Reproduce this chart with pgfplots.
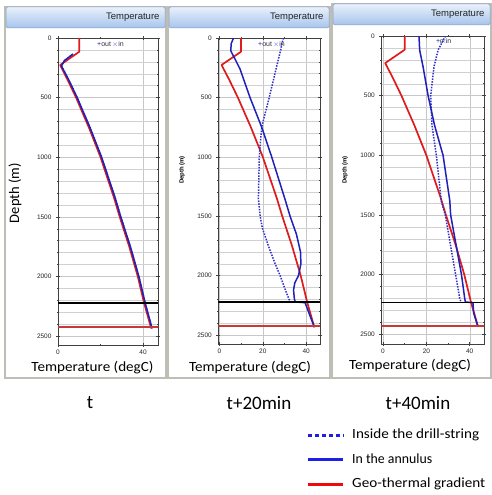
\documentclass[border=0pt]{standalone}
\usepackage{fontspec}
\setmainfont{Carlito}
\newfontfamily\arialf{Liberation Sans}
\usepackage{graphicx}
\usepackage{pgfplots}
\pgfplotsset{compat=1.18}

\definecolor{geo}{RGB}{222,28,30}
\definecolor{ann}{RGB}{32,32,186}
\definecolor{drill}{RGB}{48,48,206}
\definecolor{legblue}{RGB}{30,30,230}
\definecolor{legred}{RGB}{238,10,10}
\definecolor{botred}{RGB}{200,56,56}
\definecolor{frame}{RGB}{190,190,182}
\definecolor{hdtop}{RGB}{232,240,251}
\definecolor{hdbot}{RGB}{166,196,236}
\definecolor{hdline}{RGB}{132,158,196}

\newcommand{\tickfont}{\arialf\fontsize{6.5}{7}\selectfont}
% text stretched or squeezed to a given width
\newcommand{\wbox}[2]{\resizebox{#1}{\height}{#2}}

\pgfplotsset{
  panel/.style={
    scale only axis, anchor=north west,
    y dir=reverse, ymin=0,
    ytick={0,500,...,2500},
    minor ytick={100,200,...,2500},
    ymajorgrids, yminorgrids, xmajorgrids,
    grid style={draw=black!22, line width=0.4pt},
    minor grid style={draw=black!18, line width=0.4pt},
    axis line style={draw=black!75, line width=0.6pt},
    tick style={draw=black!75, line width=0.5pt},
    major tick length=4pt, minor tick length=2pt,
    tick align=center,
    ticklabel style={font=\tickfont, text=black!85},
    /pgf/number format/assume math mode=true,
    /pgf/number format/1000 sep={},
    yticklabel style={xshift=-1pt},
    xticklabel style={yshift=1pt},
  },
  geoline/.style={draw=geo, line width=1.7pt, line join=round},
  annline/.style={draw=ann, line width=1.5pt, line join=round},
  drillline/.style={draw=drill, line width=1.5pt, dash pattern=on 1.5pt off 1.3pt},
  bitline/.style={draw=black, line width=1.7pt},
  tdline/.style={draw=botred, line width=1.8pt},
}

% geothermal gradient, shared by the three snapshots
\newcommand{\geoplot}{
  \addplot[geoline] coordinates {(10,0) (10,115) (1,227) (4.5,350) (8.5,500)
    (14.5,750) (20,1000) (26.5,1350) (29,1500) (33.5,1750) (37.5,2000)
    (40.5,2225) (43.8,2435)};
}

\begin{document}
\begin{tikzpicture}
\useasboundingbox (0,0) rectangle (491pt,-495pt);
\fill[white] (0,0) rectangle (491pt,-495pt);

\begin{scope}[x=1pt,y=-1pt]
  % panel frames and header bars
  \foreach \a/\b/\h in {5/166/7, 168/330/7, 332/491/4}{
    \draw[frame, line width=1.2pt] (\a,\h) rectangle (\b,378);
    \shade[top color=hdtop, bottom color=hdbot, draw=hdline, line width=0.5pt,
      rounded corners=1.5pt] (\a+1,\h) rectangle (\b-1,\h+21);
    \node[anchor=east, font=\arialf\fontsize{9.5}{10}\selectfont, text=black!85]
      at (\b-3,\h+10.5) {Temperature};
  }
\end{scope}

% ---- t ----
\begin{axis}[panel, at={(58pt,-38pt)}, width=100pt, height=307pt,
  xmin=0, xmax=47, ymax=2575, xtick={0,40}, minor xtick={20}]
  \addplot[drillline] coordinates {(7,135) (3,190) (1.6,235) (5,350) (9,500)
    (15,750) (20.5,1000) (27,1350) (29.5,1500) (34,1750) (38,2000) (41,2225) (44.2,2435)};
  \geoplot
  \addplot[annline] coordinates {(7,135) (3,190) (1.6,235) (5,350) (9,500)
    (15,750) (20.5,1000) (27,1350) (29.5,1500) (34,1750) (38,2000) (41,2225) (44.2,2435)};
  % total depth and bit depth
  \addplot[tdline] coordinates {(0,2425) (47,2425)};
  \addplot[bitline] coordinates {(0,2225) (47,2225)};
\end{axis}

% ---- t+20min ----
\begin{axis}[panel, at={(218.3pt,-38pt)}, width=101.7pt, height=306pt,
  xmin=-0.5, xmax=46.4, ymax=2576, xtick={0,20,40}, minor xtick={10,30}]
  \geoplot
  \addplot[drillline] coordinates {(29.5,0) (28,120) (26.4,240) (23,500)
    (19.5,750) (18.4,1000) (18,1350) (18.8,1500) (19.8,1600) (22.6,1750)
    (25.7,1900) (28,2000) (30,2100) (32.1,2200) (33,2222)};
  \addplot[annline] coordinates {(6.5,0) (5.4,50) (5.3,110) (7,170) (9.5,260)
    (14.1,500) (19.5,750) (24.1,1000) (30.3,1360) (32.6,1500) (35.5,1650)
    (37.4,1800) (37.6,1900) (36.5,2000) (34.8,2060) (34.2,2120) (34.6,2200)
    (35,2222) (39.5,2228) (41,2300) (43.8,2435)};
  \addplot[tdline] coordinates {(-0.5,2425) (46.4,2425)};
  \addplot[bitline] coordinates {(-0.5,2225) (46.4,2225)};
\end{axis}

% ---- t+40min ----
\begin{axis}[panel, at={(381.3pt,-36pt)}, width=102.7pt, height=308pt,
  xmin=-0.8, xmax=46.6, ymax=2582, xtick={0,20,40}, minor xtick={10,30}]
  \geoplot
  \addplot[drillline] coordinates {(28.8,0) (25.4,118) (23.5,260) (22,500)
    (22.6,750) (24.6,1000) (26.9,1386) (28.8,1507) (31.2,1760) (33.5,2000)
    (35.4,2200) (36,2230)};
  \addplot[annline] coordinates {(16.6,0) (16.9,118) (18.5,260) (20.8,500)
    (23.8,750) (27.7,1000) (30.8,1380) (31.2,1500) (33.8,1760) (36.2,2000)
    (37.7,2200) (38,2230) (41.5,2235) (41.8,2320) (43.8,2435)};
  \addplot[tdline] coordinates {(-0.8,2430) (46.6,2430)};
  \addplot[bitline] coordinates {(-0.8,2235) (46.6,2235)};
\end{axis}

\begin{scope}[x=1pt,y=-1pt]
  % in-plot series keys
  \foreach \x in {97, 258}{
    \node[anchor=west, inner sep=0pt, font=\arialf\fontsize{7}{8}\selectfont] at (\x,44)
      {\textcolor{ann}{+}\textcolor{black!80}{out}\,\textcolor{blue!70}{$\times$}\textcolor{black!80}{in}};
  }
  \node[anchor=west, inner sep=0pt, font=\arialf\fontsize{7}{8}\selectfont] at (436,41)
    {\textcolor{ann}{+}\hspace{-0.5pt}\textcolor{black!80}{o}\hspace{-3pt}\textcolor{blue!70}{$\times$}\hspace{-1pt}\textcolor{black!80}{in}};

  % axis titles
  \node[rotate=90, inner sep=0pt, font=\fontsize{14.5}{15}\selectfont] at (15,193) {\wbox{60pt}{Depth (m)}};
  \node[rotate=90, font=\arialf\fontsize{6}{7}\selectfont\bfseries] at (182,170) {Depth (m)};
  \node[rotate=90, font=\arialf\fontsize{6}{7}\selectfont\bfseries] at (345,170) {Depth (m)};
  \foreach \c/\yy in {92.5/368, 250/368, 410/366}{
    \node[inner sep=0pt, font=\fontsize{14}{15}\selectfont] at (\c,\yy) {\wbox{122pt}{Temperature (degC)}};
  }

  % snapshot captions
  \node[font=\fontsize{19}{20}\selectfont] at (90,403) {t};
  \node[font=\fontsize{19}{20}\selectfont] at (259,403) {t+20min};
  \node[font=\fontsize{19}{20}\selectfont] at (418,403) {t+40min};

  % legend
  \draw[legblue, line width=3pt, dash pattern=on 4pt off 3pt] (308,435) -- (344,435);
  \draw[legblue, line width=3pt] (308,459) -- (343,459);
  \draw[legred, line width=3pt] (308,484) -- (343,484);
  \foreach \yy/\w/\t in {435/127pt/Inside the drill-string, 459/80pt/In the annulus, 484/133pt/Geo-thermal gradient}{
    \node[anchor=west, inner sep=0pt, font=\fontsize{14}{15}\selectfont] at (352,\yy) {\wbox{\w}{\t}};
  }
\end{scope}
\end{tikzpicture}
\end{document}
